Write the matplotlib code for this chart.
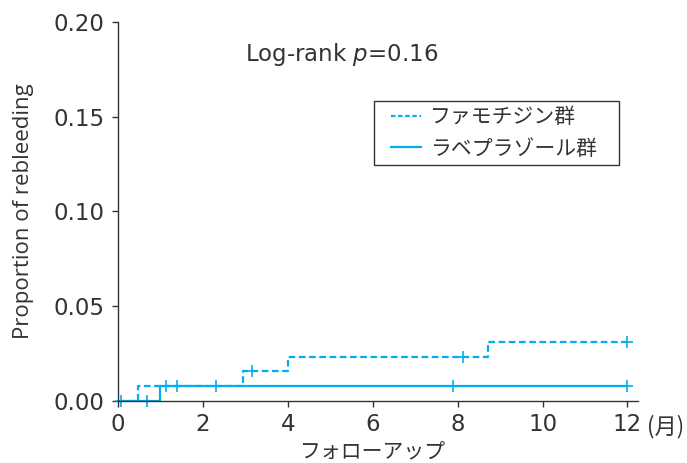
import matplotlib
matplotlib.use("Agg")
import matplotlib.pyplot as plt
from matplotlib.lines import Line2D
from matplotlib.patches import Rectangle
import numpy as np

plt.rcParams['font.family'] = ['DejaVu Sans', 'Noto Sans CJK JP']
plt.rcParams['mathtext.fontset'] = 'dejavusans'

# Step data (time in months, cumulative proportion)
famo_times = [0, 0.47, 2.95, 4.0, 8.72, 12.0]
famo_vals = [0.0, 0.0078, 0.0156, 0.0234, 0.0313, 0.0313]
famo_cens_t = [0.68, 3.15, 8.12, 12.0]
famo_cens_v = [0.0, 0.0156, 0.0234, 0.0313]

rabe_times = [0, 1.0, 12.0]
rabe_vals = [0.0, 0.0078, 0.0078]
rabe_cens_t = [0.08, 1.12, 1.38, 2.31, 7.9, 12.0]
rabe_cens_v = [0.0, 0.0078, 0.0078, 0.0078, 0.0078, 0.0078]

labels = ['ファモチジン群', 'ラベプラゾール群']
xticks = [0, 2, 4, 6, 8, 10, 12]
yticks = [0.00, 0.05, 0.10, 0.15, 0.20]

color = '#00AEEF'
txt = '#333333'
jp = ['Noto Sans CJK JP']

fig = plt.figure(figsize=(6.87, 4.63), dpi=100)
ax = fig.add_axes([0.1718, 0.1339, 0.9287 - 0.1718, 0.9525 - 0.1339])

ax.step(famo_times, famo_vals, where='post', color=color, lw=1.6,
        linestyle=(0, (3, 1.6)))
ax.step(rabe_times, rabe_vals, where='post', color=color, lw=1.6, linestyle='-')
ax.plot(famo_cens_t, famo_cens_v, '+', color=color, ms=9, mew=1.2, clip_on=False)
ax.plot(rabe_cens_t, rabe_cens_v, '+', color=color, ms=9, mew=1.2, clip_on=False)

ax.set_xlim(0, 12.25)
ax.set_ylim(0, 0.20)
ax.set_xticks(xticks)
ax.set_xticklabels([str(x) for x in xticks])
ax.set_yticks(yticks)
ax.set_yticklabels([f'{y:.2f}' for y in yticks])
for s in ['top', 'right']:
    ax.spines[s].set_visible(False)
for s in ['left', 'bottom']:
    ax.spines[s].set_color('#333333')
    ax.spines[s].set_linewidth(1.0)
ax.tick_params(direction='out', length=4.5, width=1.0, colors='#333333',
               labelsize=16.5, labelcolor=txt)
ax.tick_params(axis='x', pad=4)
ax.tick_params(axis='y', pad=5)

ax.text(12.45, -0.0133, '(月)', fontsize=16, color=txt, ha='left', va='center',
        family=jp, clip_on=False)

ax.set_xlabel('フォローアップ', fontsize=15, color=txt, family=jp)
ax.xaxis.set_label_coords(6 / 12.25, -0.105)
ax.set_ylabel('Proportion of rebleeding', fontsize=16, color=txt, labelpad=14,
              family=['Open Sans'])

ax.text(3.0, 0.183, 'Log-rank $\\it{p}$=0.16', fontsize=16.5, color=txt,
        ha='left', va='center')

# legend frame drawn separately
ax.add_patch(Rectangle((0.4923, 0.6227), 0.4712, 0.1689, transform=ax.transAxes,
                       facecolor='white', edgecolor='#333333', lw=1.0,
                       clip_on=False, zorder=4))
h1 = Line2D([], [], color=color, lw=1.6, linestyle=(0, (2, 1.2)))
h2 = Line2D([], [], color=color, lw=1.6, linestyle='-')
leg = ax.legend(handles=[h1, h2], labels=labels, loc='upper left',
                bbox_to_anchor=(0.525, 0.778),
                prop={'family': jp, 'size': 15}, frameon=False,
                handlelength=1.44, borderpad=0, labelspacing=0.45,
                handletextpad=0.43, borderaxespad=0)
leg.set_zorder(5)
for t in leg.get_texts():
    t.set_color(txt)

fig.savefig('out.png', dpi=100)
